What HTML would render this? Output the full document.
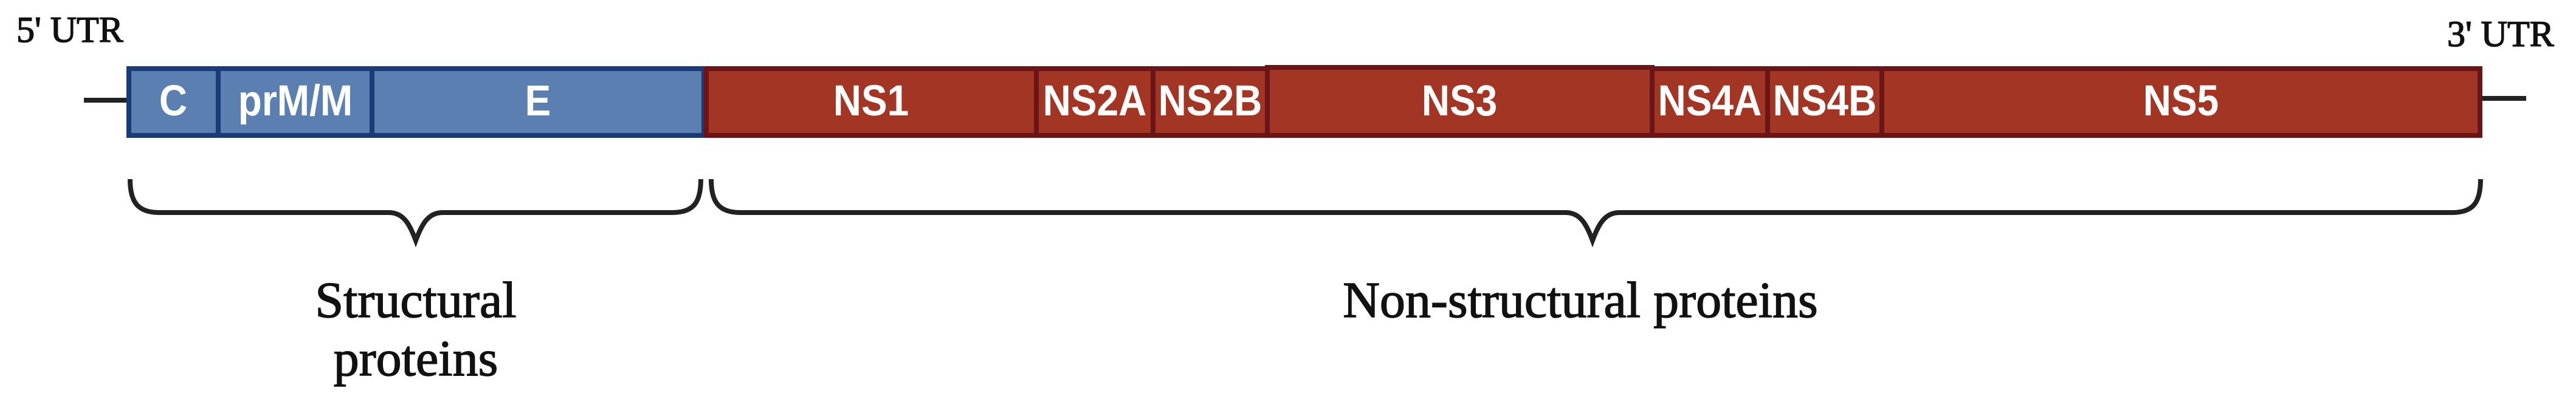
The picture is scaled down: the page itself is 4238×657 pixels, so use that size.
<!DOCTYPE html>
<html><head><meta charset="utf-8"><style>
html,body{margin:0;padding:0;background:#fff;}
svg{display:block;}
.l{font-family:"Liberation Sans",sans-serif;font-weight:bold;font-size:64px;fill:#fff;text-anchor:middle;}
.s{font-family:"Liberation Serif",serif;fill:#111;stroke:#111;stroke-width:1.5;}
</style></head><body>
<svg width="4238" height="657" viewBox="0 0 4238 657" xmlns="http://www.w3.org/2000/svg">
<line x1="138" y1="165" x2="212" y2="165" stroke="#222" stroke-width="8"/>
<line x1="4080" y1="162" x2="4156" y2="162" stroke="#222" stroke-width="8"/>
<g stroke="#1a3a78" stroke-width="8" fill="#5a7fb0">
<rect x="212" y="113" width="147" height="110"/>
<rect x="359" y="113" width="253" height="110"/>
<rect x="612" y="113" width="546" height="110"/>
</g>
<g stroke="#6b1518" stroke-width="8" fill="#a33524">
<rect x="1162" y="113" width="543" height="110"/>
<rect x="1705" y="113" width="192" height="110"/>
<rect x="1897" y="113" width="188" height="110"/>
<rect x="2085" y="111" width="633" height="112"/>
<rect x="2718" y="113" width="190" height="110"/>
<rect x="2908" y="113" width="188" height="110"/>
<rect x="3096" y="113" width="984" height="110"/>
</g>
<g transform="translate(0,190) scale(1,1.12) translate(0,-190)">
<text class="l" x="285" y="190">C</text>
<text class="l" x="486" y="190">prM/M</text>
<text class="l" x="885" y="190">E</text>
<text class="l" x="1433" y="190">NS1</text>
<text class="l" x="1801" y="190">NS2A</text>
<text class="l" x="1991" y="190">NS2B</text>
<text class="l" x="2401" y="190">NS3</text>
<text class="l" x="2813" y="190">NS4A</text>
<text class="l" x="3002" y="190">NS4B</text>
<text class="l" x="3588" y="190">NS5</text>
</g>
<g fill="none" stroke="#222" stroke-width="8">
<path d="M214,295 C214,332 226,350 262,350 L640,350 C665,350 675,372 684,396 C693,372 703,350 728,350 L1106,350 C1142,350 1153,332 1153,295"/>
<path d="M1170,295 C1170,332 1182,350 1218,350 L2576,350 C2601,350 2611,372 2620,396 C2629,372 2639,350 2664,350 L4034,350 C4070,350 4081,332 4081,295"/>
</g>
<text class="s" x="27" y="69" font-size="60">5' UTR</text>
<text class="s" x="4026" y="76" font-size="60">3' UTR</text>
<text class="s" x="684" y="522" font-size="84" text-anchor="middle">Structural</text>
<text class="s" x="684" y="618" font-size="84" text-anchor="middle">proteins</text>
<text class="s" x="2600" y="522" font-size="84" text-anchor="middle">Non-structural proteins</text>
</svg>
</body></html>
